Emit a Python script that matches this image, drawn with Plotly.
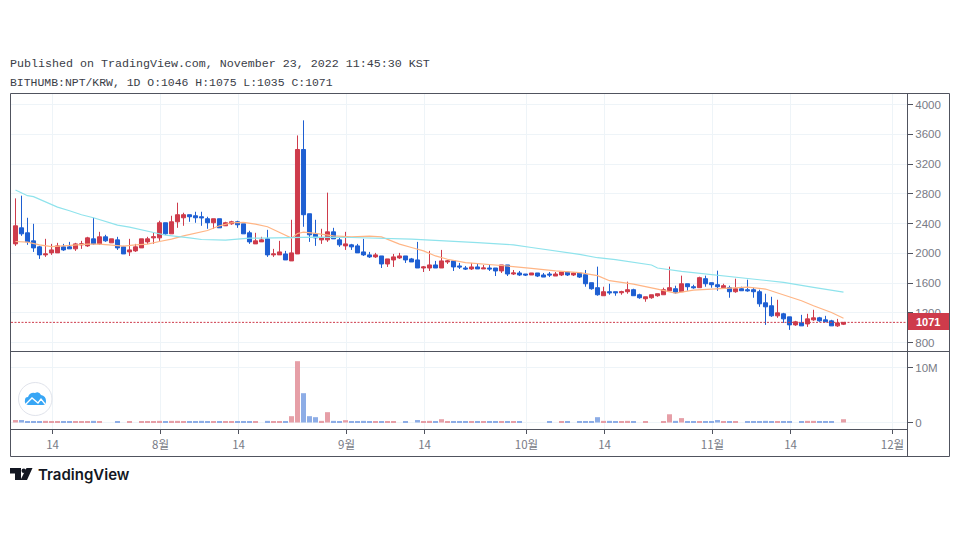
import re
import pandas as pd
import plotly.graph_objects as go

W, H = 960, 543

open_ = [2126,2342,2275,2167,2086,1978,2005,2005,2086,2086,
         2059,2113,2099,2194,2126,2221,2140,2180,2086,2018,
         2032,2072,2153,2207,2207,2410,2261,2423,2477,2518,
         2504,2491,2464,2410,2464,2369,2396,2423,2396,2275,
         2126,2153,2194,1978,1978,1991,1897,1991,3395,2531,
         2261,2180,2180,2288,2180,2099,2113,2099,2018,1978,
         1951,1964,1856,1910,1937,1964,1924,1910,1802,1802,
         1843,1802,1883,1897,1829,1802,1789,1816,1789,1802,
         1802,1762,1843,1721,1735,1721,1708,1735,1708,1721,
         1694,1708,1748,1708,1735,1712,1604,1537,1429,1483,
         1483,1469,1483,1510,1442,1388,1402,1429,1442,1496,
         1523,1483,1590,1550,1537,1658,1604,1577,1537,1537,
         1483,1523,1510,1510,1483,1334,1294,1159,1186,1145,
         1037,1064,1050,1105,1132,1105,1091,1024,1046]
high = [2738,2774,2477,2396,2099,2194,2126,2140,2126,2153,
        2140,2167,2221,2477,2288,2248,2194,2221,2099,2194,
        2126,2194,2221,2275,2437,2410,2504,2680,2545,2518,
        2558,2558,2491,2464,2464,2423,2437,2437,2396,2302,
        2275,2221,2315,2059,2167,2032,2450,3584,3787,2531,
        2450,2329,2815,2342,2207,2288,2126,2126,2194,2018,
        2005,1964,1924,1991,2005,1964,1937,2153,1829,2032,
        1897,2045,1910,1897,1870,1829,1870,1856,1843,1843,
        1802,1843,1843,1775,1762,1721,1735,1735,1735,1748,
        1748,1748,1748,1748,1735,1775,1604,1820,1550,1590,
        1483,1496,1618,1523,1456,1415,1442,1456,1537,1820,
        1564,1699,1590,1577,1685,1699,1604,1766,1590,1564,
        1658,1550,1645,1537,1510,1456,1415,1375,1199,1145,
        1091,1172,1186,1240,1145,1159,1105,1118,1075]
low = [2099,2234,2113,2018,1924,1951,1978,2005,2032,2059,
       2032,2059,2086,2113,2113,2153,2140,2045,1991,1964,
       2018,2072,2126,2126,2167,2248,2261,2342,2369,2423,
       2410,2369,2329,2329,2342,2369,2383,2342,2261,2126,
       2126,2153,1951,1951,1978,1910,1897,1991,2356,2153,
       2099,2126,2153,2194,2086,2045,2045,2005,1964,1937,
       1937,1802,1816,1816,1924,1870,1883,1802,1748,1762,
       1802,1802,1856,1762,1789,1775,1775,1789,1789,1762,
       1694,1735,1694,1708,1694,1694,1708,1680,1680,1680,
       1694,1694,1694,1694,1667,1550,1510,1429,1429,1442,
       1429,1442,1456,1429,1388,1348,1388,1415,1442,1496,
       1456,1483,1496,1523,1537,1550,1537,1496,1523,1402,
       1469,1496,1483,1402,1280,1037,1145,1132,1064,970,
       1024,1024,1010,1091,1078,1078,1024,1010,1035]
close = [2369,2261,2153,2072,1978,1991,2045,2099,2045,2059,
         2126,2126,2207,2126,2221,2167,2194,2072,1991,2045,
         2086,2194,2194,2221,2410,2261,2423,2518,2518,2491,
         2477,2477,2410,2464,2342,2410,2423,2383,2261,2153,
         2167,2180,1978,1991,2018,1910,2005,3395,2518,2248,
         2207,2207,2288,2194,2113,2126,2086,2005,1978,1951,
         1978,1856,1924,1951,1964,1910,1883,1802,1816,1843,
         1802,1897,1897,1816,1816,1789,1816,1789,1802,1789,
         1762,1843,1721,1735,1708,1708,1735,1694,1680,1708,
         1721,1748,1708,1735,1680,1590,1523,1442,1483,1469,
         1469,1483,1510,1429,1402,1415,1442,1456,1510,1537,
         1469,1590,1550,1537,1672,1590,1577,1550,1564,1483,
         1523,1496,1496,1483,1320,1280,1159,1199,1118,1037,
         1078,1024,1118,1132,1091,1078,1024,1064,1071]
volume_m = [.45,.45,.15,.15,.15,.3,.15,.15,.15,.15,
            .15,.15,.15,.3,.15,0,0,.15,0,.15,
            0,.15,.15,.15,.3,.15,.3,.3,.15,.15,
            .15,.3,.15,.15,.15,.15,.15,.15,.15,.15,
            .15,0,.3,.15,.15,.15,1.15,11.15,5.33,1.15,
            .97,.3,1.88,.3,.15,.42,.15,.15,.3,.15,
            .15,.15,.15,.15,0,.15,0,.45,.15,.3,
            .15,.6,.15,.15,.15,.15,.15,.15,.15,.15,
            .15,.15,.15,.15,.15,0,0,0,0,.15,
            0,.15,.15,0,.15,.15,.15,.97,.3,.3,
            .15,.15,.3,.15,0,.15,0,0,.15,1.5,
            .3,.8,.15,.15,.15,.15,.15,.45,.15,.15,
            .15,0,.15,.15,.15,.3,.15,.15,.15,.15,
            0,.15,.3,.3,.15,.15,.15,0,.6]

fast_idx = [0,2,4,6,8,10,12,14,16,18,20,22,24,26,28,30,32,34,36,38,40,42,44,46,47,48,50,
            53,56,59,61,62,64,66,68,70,72,75,79,82,86,90,94,97,99,103,107,110,113,117,120,
            122,125,128,131,133,136,138]
fast_ma = [2158,2149,2113,2090,2099,2113,2122,2122,2108,2095,2113,2122,2158,2189,2234,2270,2306,2369,2410,2414,2392,2356,2279,2203,2266,2284,2266,
           2234,2220,2230,2220,2189,2122,2077,2032,1964,1919,1874,1852,1829,1798,1762,1739,1699,1631,1586,1519,1465,1505,1523,1532,
           1545,1519,1442,1361,1294,1203,1127]
slow_idx = [0,2,3,5,7,9,11,13,15,17,19,21,23,25,27,29,31,33,35,37,39,41,43,45,47,50,
            56,66,77,83,86,90,94,97,100,106,107,111,116,122,128,133,138]
slow_ma = [2850,2774,2761,2693,2621,2572,2518,2477,2432,2378,2351,2311,2279,2243,2230,2207,2185,2176,2176,2189,2203,2203,2207,2207,2207,2216,
           2212,2189,2144,2113,2077,2032,1985,1940,1915,1842,1802,1757,1712,1663,1609,1541,1478]

tick_dates = ["2022-07-14","2022-08-01","2022-08-14","2022-09-01","2022-09-14",
              "2022-10-01","2022-10-14","2022-11-01","2022-11-14","2022-12-01"]
tick_labels = ["14","8월","14","9월","14","10월","14","11월","14","12월"]
price_ticks = [800,1200,1600,2000,2400,2800,3200,3600,4000]

RED, BLUE = "#CE3B4B", "#1E5FD2"
VRED, VBLUE = "#E69FA7", "#8DADE6"
GRID, EDGE, TXT = "#EEF4F8", "#50535E", "#787B86"

dates = pd.date_range("2022-07-08", periods=len(close), freq="D")
ticks = [pd.Timestamp(d) + pd.Timedelta(hours=4) for d in tick_dates]

px = lambda v: v / W
py = lambda v: 1 - v / H
def pp(s):
    out, i = [], 0
    for t in re.findall(r"[A-Za-z]|[-\d.]+", s):
        if t.isalpha():
            out.append(t)
        else:
            out.append(f"{(px if i % 2 == 0 else py)(float(t)):.5f}")
            i += 1
    return " ".join(out)

fig = go.Figure()
fig.add_trace(go.Candlestick(
    x=dates, open=open_, high=high, low=low, close=close, xaxis="x", yaxis="y",
    whiskerwidth=0, showlegend=False, hoverinfo="skip",
    increasing=dict(line=dict(color=RED, width=1), fillcolor=RED),
    decreasing=dict(line=dict(color=BLUE, width=1), fillcolor=BLUE)))
fig.add_trace(go.Scatter(x=[dates[i] for i in fast_idx], y=fast_ma, mode="lines", xaxis="x", yaxis="y",
                         line=dict(color="#FFB585", width=1.2), showlegend=False, hoverinfo="skip"))
fig.add_trace(go.Scatter(x=[dates[i] for i in slow_idx], y=slow_ma, mode="lines", xaxis="x", yaxis="y",
                         line=dict(color="#8FE3EC", width=1.2), showlegend=False, hoverinfo="skip"))
fig.add_trace(go.Bar(x=dates, y=[v * 1e6 for v in volume_m], xaxis="x2", yaxis="y2",
                     marker=dict(color=[VRED if c >= o else VBLUE for o, c in zip(open_, close)], line_width=0),
                     showlegend=False, hoverinfo="skip"))

xrange_ = ["2022-07-07 06:00", "2022-12-03 14:00"]
xcommon = dict(type="date", range=xrange_, domain=[px(11), px(907)], tickmode="array", tickvals=ticks,
               showgrid=True, gridcolor=GRID, gridwidth=1, zeroline=False, showline=False)
font_tick = dict(family="Liberation Sans", size=11.5, color=TXT)

shapes = [
    dict(type="line", xref="paper", yref="y", x0=px(11), x1=px(907), y0=close[-1], y1=close[-1],
         line=dict(color=RED, width=1, dash="2px,1.5px"), layer="above"),
    dict(type="rect", xref="paper", yref="paper", x0=px(907), x1=px(949.5), y0=py(330), y1=py(313),
         fillcolor=RED, line_width=0, layer="above"),
    dict(type="rect", xref="paper", yref="paper", x0=px(10.5), x1=px(949.5), y0=py(456.5), y1=py(93.5),
         line=dict(color=EDGE, width=1), layer="above"),
    dict(type="line", xref="paper", yref="paper", x0=px(907.5), x1=px(907.5), y0=py(93.5), y1=py(456.5),
         line=dict(color=EDGE, width=1), layer="above"),
    dict(type="line", xref="paper", yref="paper", x0=px(10.5), x1=px(949.5), y0=py(351.5), y1=py(351.5),
         line=dict(color=EDGE, width=1), layer="above"),
    dict(type="line", xref="paper", yref="paper", x0=px(10.5), x1=px(907.5), y0=py(429.5), y1=py(429.5),
         line=dict(color=EDGE, width=1), layer="above"),
    dict(type="circle", xref="paper", yref="paper", x0=px(18.5), x1=px(52), y0=py(415.5), y1=py(382.5),
         fillcolor="white", line=dict(color="#E0E3EB", width=1), layer="above"),
    dict(type="path", xref="paper", yref="paper", layer="above", fillcolor="#38A6F5", line_width=0,
         path=pp("M 28 405 Q 24 404 25 400 Q 25 397 28 397 Q 30 392 35 393 Q 39 391 41 395 Q 46 396 46 401 Q 46 405 43 405 Z")),
    dict(type="path", xref="paper", yref="paper", layer="above", line=dict(color="white", width=1.3),
         path=pp("M 26 404 L 32 398 L 38 403 L 41 399 L 45 404")),
    dict(type="path", xref="paper", yref="paper", layer="above", fillcolor="#131722", line_width=0,
         path=pp("M 10 468 L 21 468 L 21 480 L 15 480 L 15 473.5 L 10 473.5 Z")),
    dict(type="circle", xref="paper", yref="paper", layer="above", fillcolor="#131722", line_width=0,
         x0=px(21.5), x1=px(26), y0=py(473), y1=py(468.5)),
    dict(type="path", xref="paper", yref="paper", layer="above", fillcolor="#131722", line_width=0,
         path=pp("M 26.5 468 L 32.5 468 L 27 480 L 20.5 480 Z")),
]

def note(text, x, y, family, size, color, weight=None, xanchor="left"):
    return dict(text=text, x=px(x), y=py(y), xref="paper", yref="paper", showarrow=False,
                xanchor=xanchor, yanchor="middle", borderpad=0,
                font=dict(family=family, size=size, color=color, weight=weight))

annotations = [
    note("Published on TradingView.com, November 23, 2022 11:45:30 KST", 9, 64.5, "Liberation Mono", 11.67, "#3A3D47"),
    note("BITHUMB:NPT/KRW, 1D O:1046 H:1075 L:1035 C:1071", 9, 82, "Liberation Mono", 11.45, "#3A3D47"),
    note(str(close[-1]), 928, 321.5, "Liberation Sans", 11, "white", weight=700, xanchor="center"),
    note("TradingView", 36.5, 474.5, "Inter", 15, "#131722", weight=600),
]

fig.update_layout(
    width=W, height=H, autosize=False, margin=dict(l=0, r=0, t=0, b=0),
    paper_bgcolor="white", plot_bgcolor="white", hovermode=False,
    boxgap=0.25, boxgroupgap=0.1, bargap=0.17,
    xaxis=dict(**xcommon, anchor="y", ticks="", showticklabels=False, rangeslider=dict(visible=False)),
    xaxis2=dict(**xcommon, anchor="y2", matches="x", ticktext=tick_labels, ticks="outside", ticklen=4,
                tickcolor=EDGE, tickwidth=1, ticklabelstandoff=1,
                tickfont=dict(family="Noto Sans CJK KR", size=11.5, color=TXT)),
    yaxis=dict(domain=[py(351), py(94)], range=[686, 4141], side="right", anchor="x",
               tickmode="array", tickvals=price_ticks, ticktext=[str(t) for t in price_ticks],
               ticks="outside", ticklen=5, tickcolor=EDGE, tickwidth=1, tickfont=font_tick,
               gridcolor=GRID, gridwidth=1, zeroline=False, showline=False),
    yaxis2=dict(domain=[py(429), py(352)], range=[-1.18e6, 12.82e6], side="right", anchor="x2",
                tickmode="array", tickvals=[0, 1e7], ticktext=["0", "10M"],
                ticks="outside", ticklen=5, tickcolor=EDGE, tickwidth=1, tickfont=font_tick,
                gridcolor=GRID, gridwidth=1, zeroline=False, showline=False),
    shapes=shapes, annotations=annotations,
)
fig.write_html("out.html", config=dict(displayModeBar=False),
               post_script="document.body.style.margin='0';document.body.style.overflow='hidden';")
